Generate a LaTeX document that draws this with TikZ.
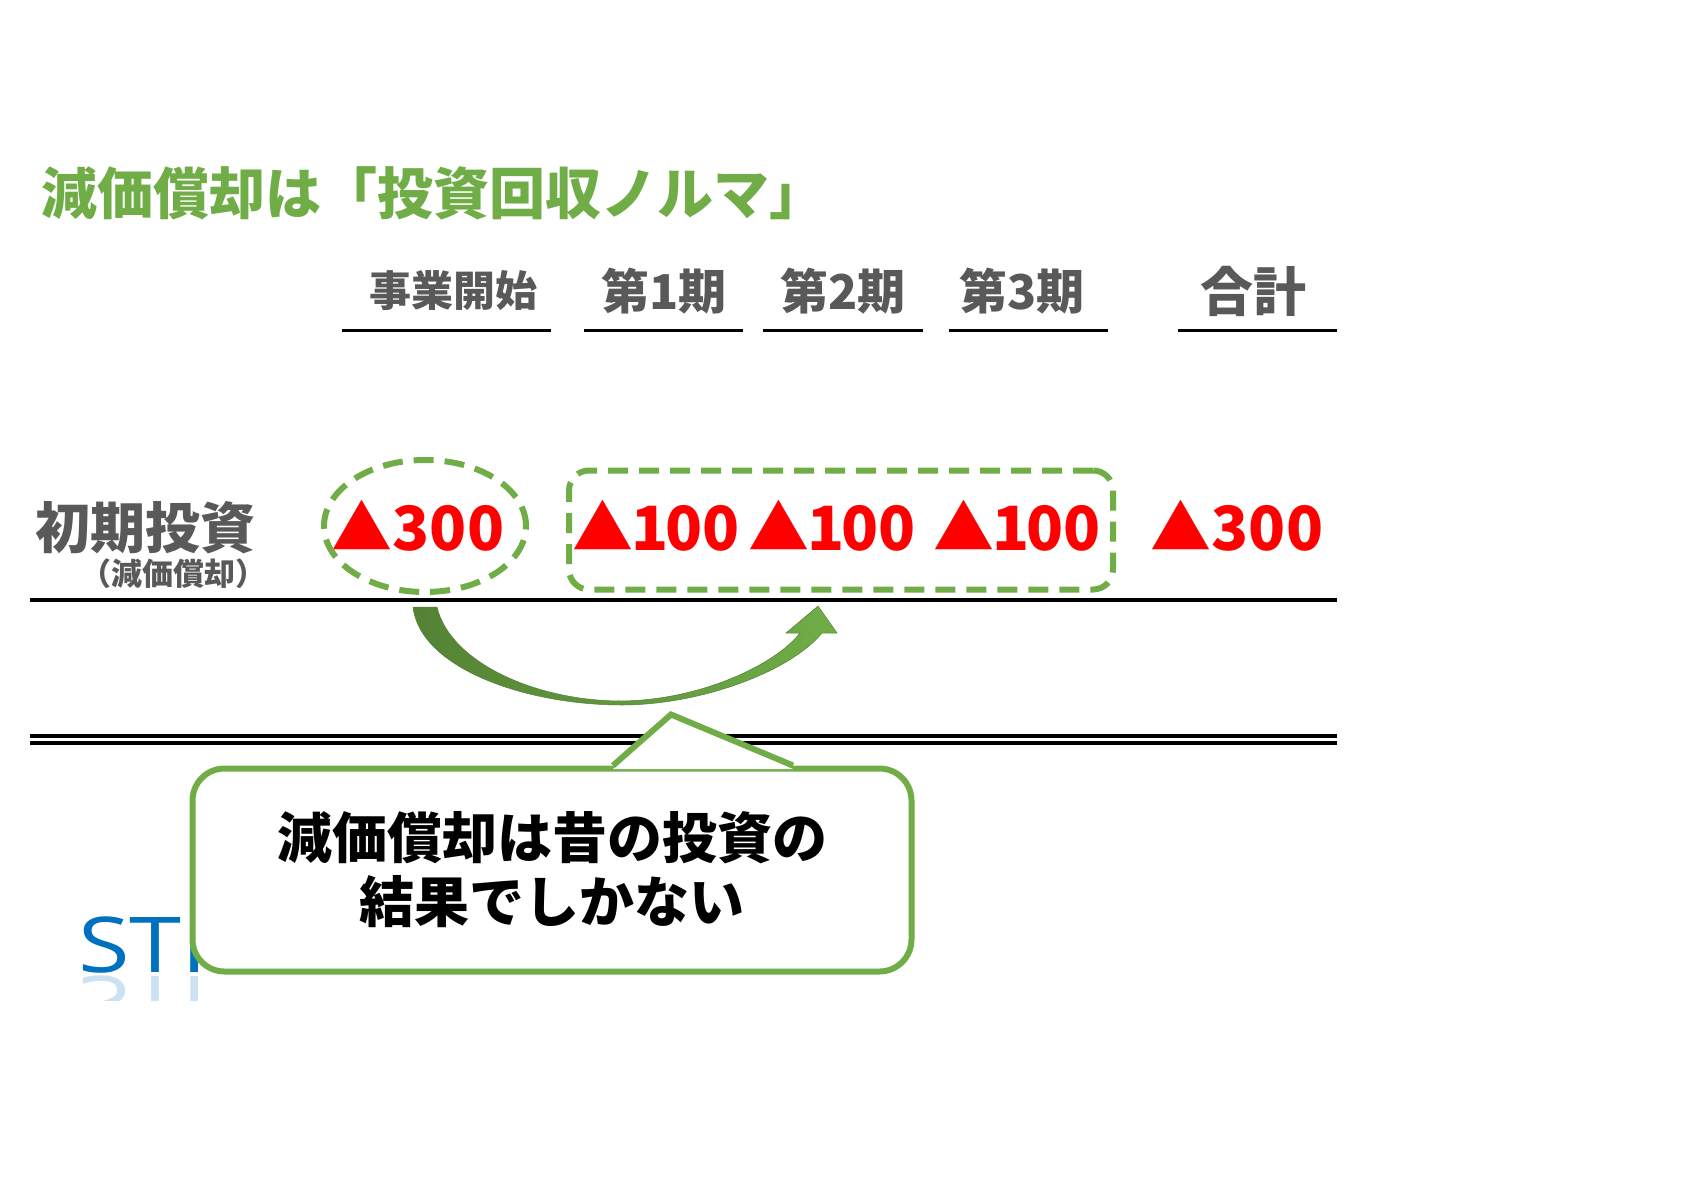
\documentclass[tikz,border=0pt]{standalone}
\usepackage{fontspec}
\setmainfont{Noto Sans CJK JP}
\newfontfamily\latinsans{Open Sans}
\usetikzlibrary{shapes.geometric}
\definecolor{ogreen}{HTML}{70AD47}
\definecolor{dgreen}{HTML}{548235}
\definecolor{txtgray}{HTML}{595959}
\definecolor{oblue}{HTML}{0070C0}
\newcommand\hund{\kern-2pt1\kern-3pt00}

\begin{document}
\begin{tikzpicture}[x=1pt,y=-1pt,every node/.style={inner sep=0pt,font=\bfseries},
  hdr/.style={text=txtgray},
  neg/.style={text=red,font=\bfseries\fontsize{61}{61}\selectfont},
  dashring/.style={draw=ogreen,line width=6pt,dash pattern=on 20pt off 11pt}]
  \useasboundingbox (0,0) rectangle (1684,1191);
  % title
  \node[anchor=west,text=ogreen,font=\bfseries\fontsize{56}{56}\selectfont] (ttl) at (41,193) {減価償却は「投資回収ノルマ」};
  % column heads
  \foreach \n/\x/\s/\t in {h0/453/42/事業開始,h1/664/48/第1期,h2/843/48/第2期,h3/1022/48/第3期,h4/1253/53/合計}
    \node[hdr,font=\bfseries\fontsize{\s}{\s}\selectfont] (\n) at (\x,291) {\t};
  \foreach \a/\b in {342/551,584/743,763/923,949/1108,1178/1337}
    \draw[line width=3pt] (\a,330) -- (\b,330);
  % row
  \node[hdr,font=\bfseries\fontsize{55}{55}\selectfont] (inv) at (145,528) {初期投資};
  \node[hdr,font=\bfseries\fontsize{31}{31}\selectfont] (dep) at (173,574) {（減価償却）};
  \foreach \n/\x/\v in {v0/418/300,v1/656/\hund,v2/832/\hund,v3/1017/\hund,v4/1237/300}
    \node[neg] (\n) at (\x,526) {▲\v};
  \node[dashring,ellipse,minimum width=202pt,minimum height=132pt] (ell) at (425,526) {};
  \node[dashring,rounded corners=20pt,minimum width=544pt,minimum height=119pt] (grp) at (841,530) {};
  \draw[line width=3.5pt] (30,600) -- (1337,600);
  \draw[line width=3.5pt] (30,736) -- (1337,736) (30,743) -- (1337,743);
  % arrow
  \shadedraw[left color=dgreen,right color=ogreen,draw=dgreen,line width=0.5pt]
    (413,607) .. controls (420,668) and (525,705) .. (622,705)
    .. controls (700,705) and (790,672) .. (822,633) -- (837,633) -- (818,606) -- (786,633) -- (800,633)
    .. controls (775,665) and (700,700) .. (622,701)
    .. controls (535,701) and (450,662) .. (437,607) -- cycle;
  % STI
  \node[anchor=base west,xscale=1.22,text=oblue,font=\latinsans\fontsize{77}{77}\selectfont] (stp) at (78,972) {STI};
  \begin{scope}
    \clip (60,974) rectangle (240,1000);
    \node[anchor=base west,xscale=1.22,yscale=-1,opacity=0.2,text=oblue,font=\latinsans\fontsize{77}{77}\selectfont] (stq) at (78,976) {STI};
  \end{scope}
  % callout
  \node[draw=ogreen,line width=6pt,fill=white,rounded corners=32pt,minimum width=719pt,minimum height=203pt,
    align=center,font=\bfseries\fontsize{55}{64}\selectfont] (msg) at (552,870) {減価償却は昔の投資の\\結果でしかない};
  \fill[white] ([xshift=61pt,yshift=-3.5pt]msg.north) -- ([xshift=119pt,yshift=51pt]msg.north) -- ([xshift=241pt,yshift=-3.5pt]msg.north) -- cycle;
  \draw[ogreen,line width=6pt] ([xshift=61pt]msg.north) -- ([xshift=119pt,yshift=51pt]msg.north) -- ([xshift=241pt]msg.north);
\end{tikzpicture}
\end{document}
